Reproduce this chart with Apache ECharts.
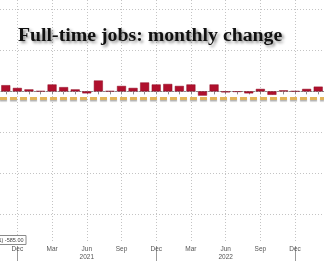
<!DOCTYPE html>
<html>
<head>
<meta charset="utf-8">
<script src="https://cdn.jsdelivr.net/npm/echarts@6/dist/echarts.min.js"></script>
<style>html,body{margin:0;padding:0;background:#fff}#c{width:324px;height:261px}</style>
</head>
<body>
<div id="c"></div>
<script>
const categories = ['Nov 2020','Dec 2020','Jan 2021','Feb 2021','Mar 2021','Apr 2021','May 2021','Jun 2021','Jul 2021','Aug 2021','Sep 2021','Oct 2021','Nov 2021','Dec 2021','Jan 2022','Feb 2022','Mar 2022','Apr 2022','May 2022','Jun 2022','Jul 2022','Aug 2022','Sep 2022','Oct 2022','Nov 2022','Dec 2022','Jan 2023','Feb 2023'];
const monthlyChange = [530, 295, 170, 25, 590, 363, 170, -170, 928, 25, 464, 295, 760, 590, 632, 464, 590, -363, 590, -85, -42, -170, 211, -295, 85, 17, 211, 405];
const gridValues = [7000, 3500, 0, -3500, -7000, -10500];
const lastValue = -585;
const labelMonths = ['Dec', 'Mar', 'Jun', 'Sep'];
const yearLabelMonth = 'Jun';
const titleText = 'Full-time jobs: monthly change';
const legendText = '(R1) -585.00';

const isLabelMonth = (idx, val) => labelMonths.indexOf(String(val).slice(0, 3)) >= 0;
const isDec = (idx, val) => String(val).slice(0, 3) === 'Dec';

const chart = echarts.init(document.getElementById('c'), null, {renderer: 'canvas'});
const gridLeft = -3.835, gridRight = -4.52;
chart.setOption({
  animation: false,
  backgroundColor: '#fff',
  title: {
    text: titleText,
    left: 18, top: 25.5, padding: 0,
    textStyle: {
      fontFamily: '"Liberation Serif", serif', fontWeight: 'bold', fontSize: 19.8, color: '#111',
      textShadowColor: 'rgba(0,0,0,0.45)', textShadowBlur: 3, textShadowOffsetX: 2, textShadowOffsetY: 2
    }
  },
  grid: [
    {left: gridLeft, right: gridRight, top: 0, bottom: 15, containLabel: false},
    {left: gridLeft, right: gridRight, top: 246, bottom: 0, containLabel: false}
  ],
  xAxis: [{
    type: 'category', data: categories, gridIndex: 0, boundaryGap: true,
    axisLine: {show: true, lineStyle: {color: '#8a8a8a', width: 1}},
    axisTick: {show: true, alignWithLabel: true, interval: 0, length: 3, lineStyle: {color: '#8a8a8a'}},
    axisLabel: {
      show: true, interval: isLabelMonth, margin: 2, color: '#555', fontSize: 6.5,
      fontFamily: '"Liberation Sans", Arial, sans-serif', lineHeight: 8,
      formatter: (v) => {
        const m = v.slice(0, 3);
        return m === yearLabelMonth ? m + '\n' + v.slice(4) : m;
      }
    },
    splitLine: {show: true, interval: isLabelMonth, alignWithLabel: true, lineStyle: {color: '#c4c4c4', type: [1, 2], width: 1}}
  }, {
    type: 'category', data: categories, gridIndex: 1, boundaryGap: true, position: 'bottom',
    axisLine: {show: false}, axisTick: {show: false}, axisLabel: {show: false},
    splitLine: {show: true, interval: isDec, alignWithLabel: true, lineStyle: {color: '#9a9a9a', width: 1}}
  }],
  yAxis: [{
    type: 'value', gridIndex: 0, min: -12946, max: 7801, show: false, splitLine: {show: false}
  }, {
    type: 'value', gridIndex: 1, min: 0, max: 1, show: false, splitLine: {show: false}
  }],
  series: [{
    name: 'Full-time jobs monthly change', type: 'bar', data: monthlyChange,
    xAxisIndex: 0, yAxisIndex: 0, barWidth: 9, z: 3, clip: false,
    itemStyle: {color: '#b0102d', borderColor: '#8e0c24', borderWidth: 0.5},
    markLine: {
      silent: true, symbol: 'none', z: 1, animation: false,
      label: {show: false},
      lineStyle: {color: '#c4c4c4', type: [1, 2], width: 1},
      data: gridValues.map(v => ({yAxis: v}))
    }
  }, {
    name: 'Latest', type: 'line', data: [], xAxisIndex: 0, yAxisIndex: 0, z: 2,
    markLine: {
      silent: true, symbol: 'none', z: 2, animation: false,
      label: {show: false},
      lineStyle: {color: '#e2b45a', type: [7, 3], width: 3, shadowColor: 'rgba(0,0,0,0.3)', shadowBlur: 1, shadowOffsetY: 1.5},
      data: [{yAxis: lastValue}]
    }
  }, {
    type: 'line', data: [], xAxisIndex: 1, yAxisIndex: 1
  }],
  graphic: [
    {type: 'rect', z: 50, shape: {x: -20, y: 235.5, width: 46, height: 9}, style: {fill: '#fff', stroke: '#8a8a8a', lineWidth: 1}},
    {type: 'text', z: 51, style: {text: legendText, x: 23.5, y: 240.3, align: 'right', verticalAlign: 'middle', font: '5.5px "Liberation Sans", Arial, sans-serif', fill: '#444'}}
  ]
});
</script>
</body>
</html>
